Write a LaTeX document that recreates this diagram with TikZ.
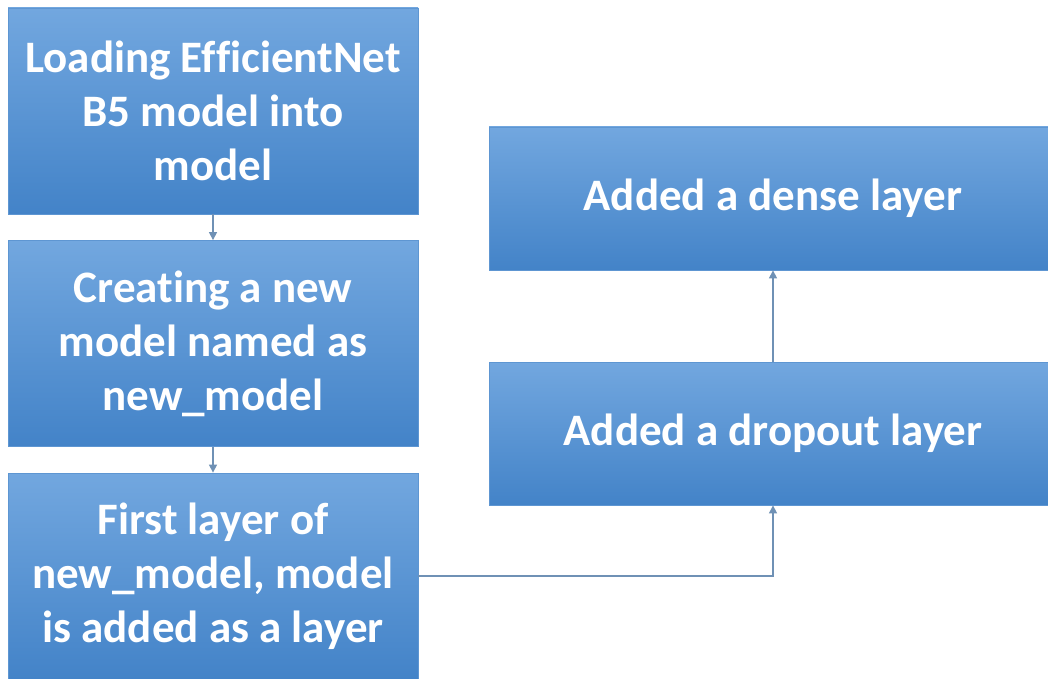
\documentclass[tikz,border=0pt]{standalone}
\usepackage{fontspec}
\setmainfont[Ligatures=NoCommon]{Carlito}
\usetikzlibrary{arrows.meta}

\definecolor{boxtop}{HTML}{72A7DF}
\definecolor{boxbot}{HTML}{4383C8}
\definecolor{boxline}{HTML}{5E96D2}
\definecolor{flowline}{HTML}{6F91B5}

\tikzset{
  stepbox/.style={rectangle, top color=boxtop, bottom color=boxbot, draw=boxline,
    line width=0.8pt, text=white, align=center, inner sep=0pt,
    font=\bfseries\fontsize{45}{54}\selectfont},
  leftbox/.style={stepbox, minimum width=410pt, minimum height=206pt},
  rightbox/.style={stepbox, minimum width=568pt, minimum height=143pt},
  flow/.style={draw=flowline, line width=1.2pt, -{Triangle[length=8pt,width=8pt]}}
}

\begin{document}
\begin{tikzpicture}[x=1pt,y=-1pt]
    \clip (0,0) rectangle (1048,679);
    \fill[white] (0,0) rectangle (1048,679);
    % left column
    \node[leftbox] (load) at (213,111) {Loading EfficientNet\\B5 model into\\model};
    \node[leftbox] (create) at (213,343.5) {Creating a new\\model named as\\new\_model};
    \node[leftbox] (first) at (213,576) {First layer of\\new\_model, model\\is added as a layer};
    % right column
    \node[rightbox] (dense) at (773,198.5) {\raisebox{-4pt}{Added a dense layer}};
    \node[rightbox] (drop) at (773,433.5) {\raisebox{-4pt}{Added a dropout layer}};
    % connectors
    \draw[flow] (load) -- (create);
    \draw[flow] (create) -- (first);
    \draw[flow] (first.east) -| (drop.south);
    \draw[flow] (drop) -- (dense);
\end{tikzpicture}
\end{document}
